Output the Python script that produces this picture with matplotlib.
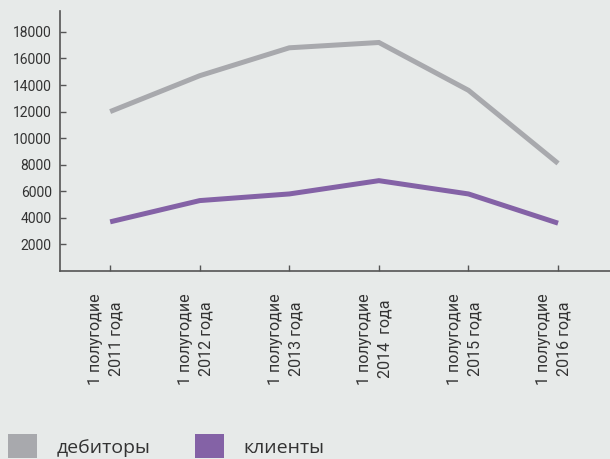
import matplotlib
matplotlib.use("Agg")
import matplotlib.pyplot as plt
import matplotlib.transforms as mtransforms
from matplotlib.patches import Patch

categories = ["1 полугодие\n2011 года", "1 полугодие\n2012 года", "1 полугодие\n2013 года",
              "1 полугодие\n2014  года", "1 полугодие\n2015 года", "1 полугодие\n2016 года"]
debtors = [12000, 14700, 16800, 17200, 13600, 8100]
clients = [3700, 5300, 5800, 6800, 5800, 3600]
yticks = [2000, 4000, 6000, 8000, 10000, 12000, 14000, 16000, 18000]

bg = "#E7EAE9"
gray = "#A8A9AD"
purple = "#8462A6"
axc = "#555555"
txt = "#333333"

fig = plt.figure(figsize=(6.1, 4.59), dpi=100, facecolor=bg)
ax = fig.add_axes([60/610, 1-271/459, 1-60/610, (271-11)/459])
ax.set_facecolor(bg)

x = list(range(len(categories)))
ax.plot(x, debtors, color=gray, lw=3.6, solid_capstyle="butt", solid_joinstyle="miter")
ax.plot(x, clients, color=purple, lw=3.6, solid_capstyle="butt", solid_joinstyle="miter")

ax.set_xlim(-0.56, 5.58)
ax.set_ylim(0, 19570)
ax.set_yticks(yticks)
ax.set_yticklabels([str(v) for v in yticks], fontsize=10, color=txt, family="Roboto")
ax.set_xticks(x)
ax.set_xticklabels(categories, rotation=90, fontsize=11.5, color=txt, family="Roboto",
                   ha="center", va="top", multialignment="center", linespacing=1.45)
ax.tick_params(axis="both", direction="in", length=4, color=axc, width=1)
ax.tick_params(axis="x", pad=16)
ax.tick_params(axis="y", pad=6)
shift = mtransforms.ScaledTranslation(-4/100, 0, fig.dpi_scale_trans)
for lbl in ax.get_xticklabels():
    lbl.set_transform(lbl.get_transform() + shift)
for s in ["top", "right"]:
    ax.spines[s].set_visible(False)
for s in ["left", "bottom"]:
    ax.spines[s].set_color(axc)
    ax.spines[s].set_linewidth(1.2)

handles = [Patch(facecolor=gray, edgecolor="none"), Patch(facecolor=purple, edgecolor="none")]
fig.legend(handles, ["дебиторы", "клиенты"], loc="lower left", bbox_to_anchor=(8/610, 0.002),
           ncol=2, frameon=False, prop={"family": "Open Sans", "size": 14},
           handlelength=1.5, handleheight=1.5, handletextpad=1.0, columnspacing=2.3,
           labelcolor=txt, borderaxespad=0, borderpad=0)

fig.savefig("out.png", dpi=100, facecolor=bg)
